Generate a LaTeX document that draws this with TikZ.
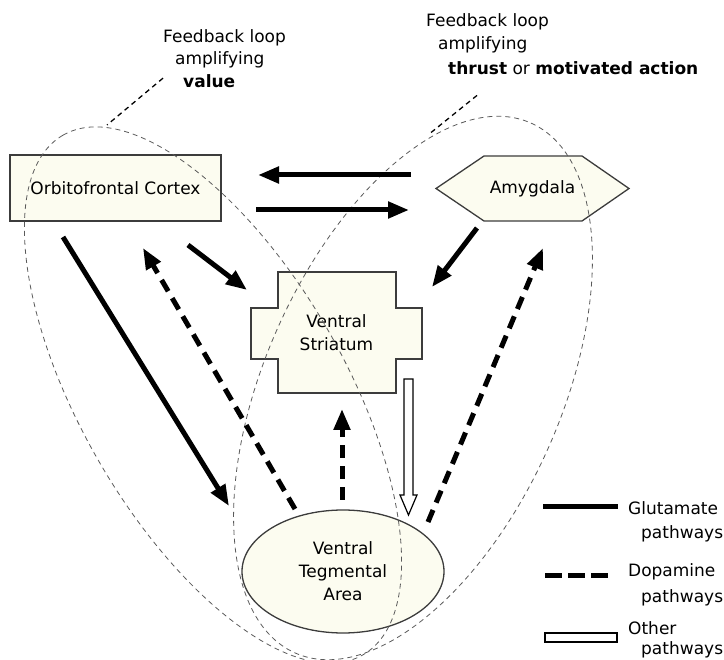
\documentclass[tikz,border=0pt]{standalone}
\usepackage{fontspec}
\setmainfont{DejaVu Sans}
\usetikzlibrary{arrows.meta, calc, shapes.geometric, backgrounds}
\definecolor{BoxFill}{RGB}{252,252,240}
\definecolor{BoxLine}{RGB}{60,60,60}
\definecolor{LoopColor}{RGB}{90,90,90}
\tikzstyle{shapeline} = [draw=BoxLine, fill=BoxFill, line width=1.3pt]
\tikzstyle{region} = [shapeline, outer sep=0pt, inner sep=0pt, align=center]
\tikzstyle{glu} = [line width=5pt, -{Triangle[length=21pt, width=16pt]}]
\tikzstyle{dopa} = [glu, dash pattern=on 13pt off 8pt]
\tikzstyle{hollow} = [draw=black, fill=white, line width=1.2pt]
\tikzstyle{loopline} = [LoopColor, line width=0.8pt, dash pattern=on 5pt off 4pt]
\tikzstyle{pointer} = [line width=1.3pt, dash pattern=on 5pt off 4pt]
\tikzstyle{lbl} = [anchor=base west, inner sep=0pt]

\begin{document}
\begin{tikzpicture}[x=1pt, y=-1pt, font=\fontsize{17}{23}\selectfont]
\useasboundingbox (0,0) rectangle (724,660);

% Regions
\node[region, minimum width=211pt, minimum height=66pt] (ofc) at (115.5,188) {Orbitofrontal Cortex};
\node[align=center, inner sep=0pt, outer sep=0pt, minimum width=193pt, minimum height=65pt] (amy) at (532.5,188.5) {Amygdala};
\node[align=center, inner sep=0pt, outer sep=0pt, minimum width=171pt, minimum height=121pt] (vs) at (336.5,332.5) {Ventral\\Striatum};
\node[region, ellipse, minimum width=202pt, minimum height=123pt] (vta) at (343,571.5) {Ventral\\Tegmental\\Area};

% Hexagon and cross outlines
\begin{scope}[on background layer]
  \draw[shapeline] (amy.west) -- ([xshift=48pt]amy.north west) -- ([xshift=-47pt]amy.north east)
    -- (amy.east) -- ([xshift=-47pt]amy.south east) -- ([xshift=48pt]amy.south west) -- cycle;
  \draw[shapeline] ([xshift=27pt]vs.north west) -- ++(118,0) -- ++(0,36) -- ++(26,0) -- ++(0,51)
    -- ++(-26,0) -- ++(0,34) -- ++(-118,0) -- ++(0,-34) -- ++(-27,0) -- ++(0,-51) -- ++(27,0) -- cycle;
\end{scope}

% Feedback loops
\draw[loopline] (213,395) circle [x radius=300, y radius=132, rotate=120];
\draw[loopline] (413,388) circle [x radius=290, y radius=148, rotate=66];

% Loop labels
\node[lbl] (fbl1) at (163,43) {Feedback loop};
\node[lbl] (fbl2) at (175,65) {amplifying};
\node[lbl] (val) at (183,88) {\textbf{value}};
\node[lbl] (fbr1) at (426,27) {Feedback loop};
\node[lbl] (fbr2) at (438,50) {amplifying};
\node[lbl] (thr) at (448,75) {\textbf{thrust} or \textbf{motivated action}};
\coordinate (loopL) at (107,125);
\coordinate (loopR) at (428,135);
\draw[pointer] ($(val.west)+(-20,-3.5)$) -- (loopL);
\draw[pointer] ($(thr.south west)+(29,20)$) -- (loopR);

% Glutamate pathways
\draw[glu] ($(amy.west)+(-25,-13.5)$) -- ($(ofc.east)+(37,-13)$);
\draw[glu] ($(ofc.east)+(35,22)$) -- ($(amy.west)+(-27,21.5)$);
\draw[glu] ($(ofc.south)+(72.5,24)$) -- ($(vs.west)+(-4,-42.5)$);
\draw[glu] ($(ofc.south)+(-52.5,16)$) -- ($(vta.west)+(-13,-65.5)$);
\draw[glu] ($(amy.south)+(-55.5,7)$) -- ($(vs.east)+(10,-45.5)$);

% Dopamine pathways
\draw[dopa] ($(vta.north)+(-48,-1)$) -- ($(ofc.south)+(27.5,27)$);
\draw[dopa] ($(vta.north)+(-1,-10)$) -- ($(vs.south)+(5.5,16)$);
\draw[dopa] ($(vta.east)+(-16,-49.5)$) -- ($(amy.south)+(10.5,27)$);

% Other pathway
\coordinate (othtop) at ($(vs.east)+(-13.5,46.5)$);
\draw[hollow] ($(othtop)+(-4.5,0)$) -- ++(0,116) -- ++(-4,0) -- ($(vta.north)+(65.5,5)$)
  -- ++(8.5,-20) -- ++(-4,0) -- ++(0,-116) -- cycle;

% Legend
\coordinate (legglu) at (543,507);
\draw[line width=5pt] (legglu) -- ++(75,0);
\node[lbl] (leg1a) at (628,515) {Glutamate};
\node[lbl] (leg1b) at (641,539) {pathways};
\coordinate (legdopa) at (545,576);
\draw[line width=5pt, dash pattern=on 17pt off 6pt] (legdopa) -- ++(63,0);
\node[lbl] (leg2a) at (628,577) {Dopamine};
\node[lbl] (leg2b) at (641,602) {pathways};
\coordinate (legoth) at (545,633);
\draw[hollow] (legoth) rectangle ++(72,9);
\node[lbl] (leg3a) at (628,634) {Other};
\node[lbl] (leg3b) at (641,655) {pathways};
\end{tikzpicture}
\end{document}
